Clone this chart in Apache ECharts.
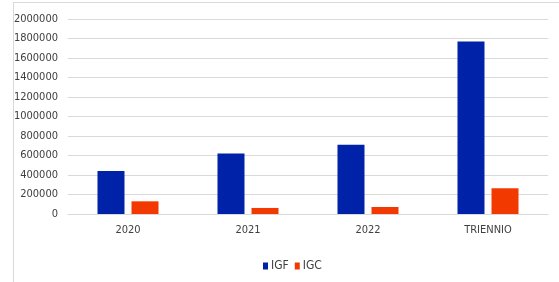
<!DOCTYPE html>
<html>
<head>
<meta charset="utf-8">
<script src="https://cdn.jsdelivr.net/npm/echarts@6/dist/echarts.min.js"></script>
<style>
  html, body { margin: 0; padding: 0; background: #fff; }
  #frame { position: absolute; left: 13px; top: 2px; width: 560px; height: 300px; border-left: 1px solid #d9d9d9; border-top: 1px solid #d9d9d9; }
  #chart { position: absolute; left: 0; top: 0; width: 559px; height: 282px; }
</style>
</head>
<body>
<div id="frame"></div>
<div id="chart"></div>
<script>
const categories = ['2020', '2021', '2022', 'TRIENNIO']
const igfValues = [440000, 620000, 709000, 1769000]
const igcValues = [130000, 62000, 72000, 264000]

const chart = echarts.init(document.getElementById('chart'))
const font = '"Liberation Sans Narrow", "DejaVu Sans Condensed", sans-serif'

chart.setOption({
  animation: false,
  textStyle: { fontFamily: font },
  grid: { left: 68, right: 11, top: 19, bottom: 68 },
  legend: {
    data: ['IGF', 'IGC'],
    left: 258,
    top: 255,
    itemWidth: 5,
    itemHeight: 7,
    itemGap: 6,
    icon: 'rect',
    textStyle: { color: '#404040', fontSize: 12, fontFamily: font, padding: [0, 0, 0, -2] },
  },
  xAxis: {
    type: 'category',
    data: categories,
    axisTick: { show: false },
    axisLine: { lineStyle: { color: '#d9d9d9', width: 1 } },
    axisLabel: { color: '#404040', fontSize: 11, fontFamily: font, margin: 11 },
  },
  yAxis: {
    type: 'value',
    min: 0,
    max: 2000000,
    interval: 200000,
    axisLine: { show: false },
    axisTick: { show: false },
    splitLine: { lineStyle: { color: '#d9d9d9', width: 1 } },
    axisLabel: { color: '#404040', fontSize: 11, fontFamily: font, margin: 10, formatter: v => String(v) },
  },
  series: [
    {
      name: 'IGF',
      type: 'bar',
      data: igfValues,
      barWidth: 27,
      barGap: '26%',
      itemStyle: { color: '#0022A8' },
    },
    {
      name: 'IGC',
      type: 'bar',
      data: igcValues,
      barWidth: 27,
      itemStyle: { color: '#F23A00' },
    },
  ],
})
</script>
</body>
</html>
